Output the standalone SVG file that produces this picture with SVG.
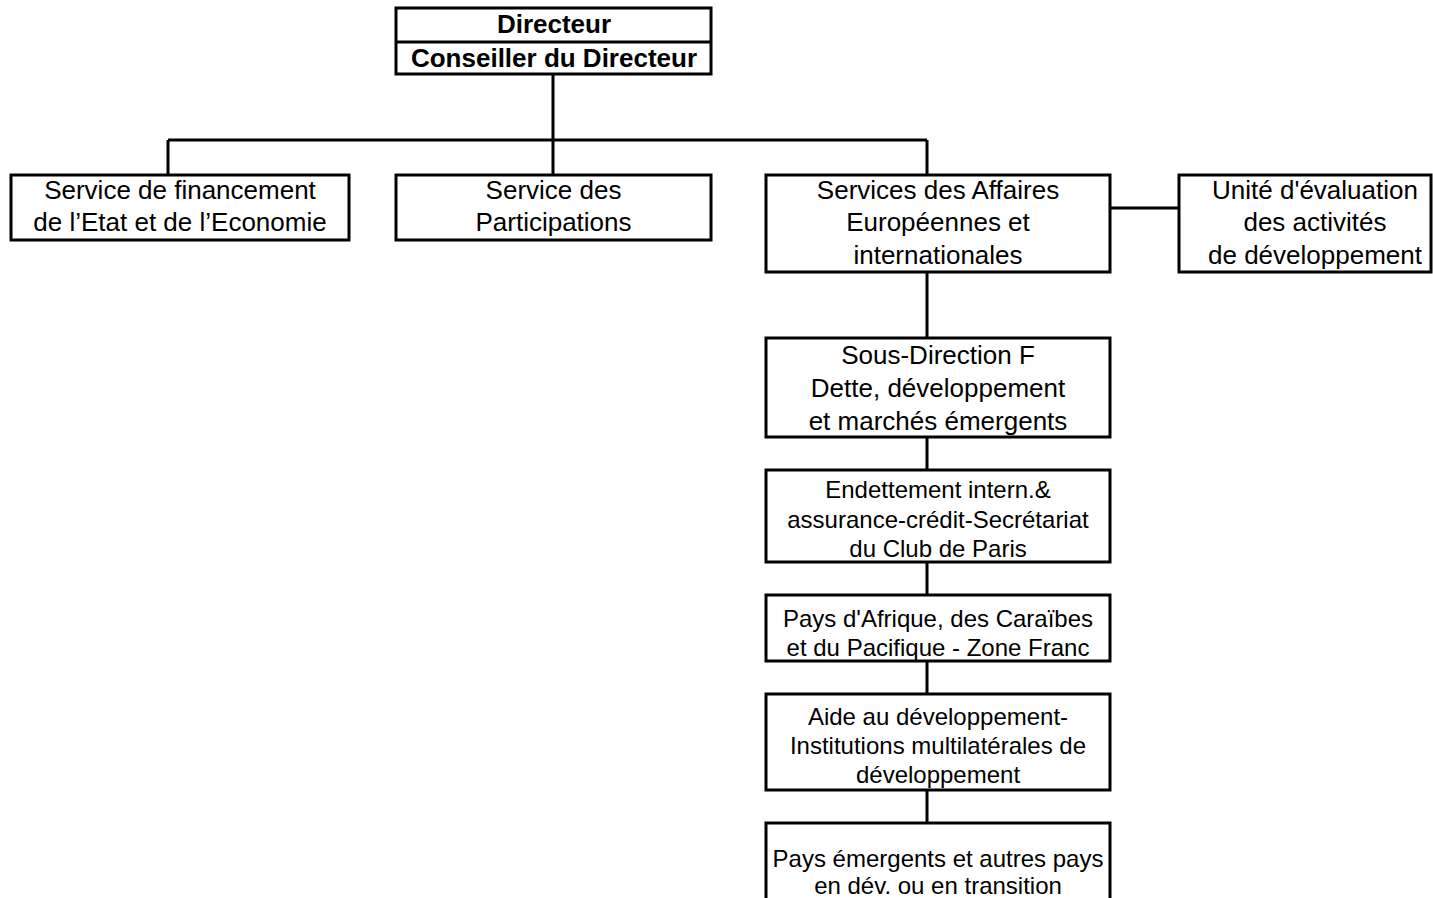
<svg xmlns="http://www.w3.org/2000/svg" width="1433" height="898" viewBox="0 0 1433 898">
<style>
.b{fill:#fff;stroke:#000;stroke-width:3}
.t{font-family:"Liberation Sans",Arial,sans-serif;font-size:26px;fill:#000;text-anchor:middle}
.s{font-size:24px}
.bd{font-weight:bold;font-size:26px}
.c{stroke:#000;stroke-width:3;fill:none}
</style>
<rect width="1433" height="898" fill="#fff"/>
<g id="connectors">
<path class="c" d="M553,74V140M168,140H927M168,140V175M553,140V175M927,140V175"/>
<path class="c" d="M1110,208H1179"/>
<path class="c" d="M927,272V338M927,437V470M927,562V595M927,661V694M927,790V823"/>
</g>
<g id="directeur">
<rect class="b" x="396" y="8" width="315" height="66"/>
<line class="c" x1="396" y1="42" x2="711" y2="42"/>
<text class="t bd" x="554" y="33">Directeur</text>
<text class="t bd" x="554" y="67">Conseiller du Directeur</text>
</g>
<g id="financement">
<rect class="b" x="11" y="175" width="338" height="65"/>
<text class="t" x="180" y="199">Service de financement</text>
<text class="t" x="180" y="231">de l’Etat et de l’Economie</text>
</g>
<g id="participations">
<rect class="b" x="396" y="175" width="315" height="65"/>
<text class="t" x="553.5" y="199">Service des</text>
<text class="t" x="553.5" y="231">Participations</text>
</g>
<g id="affaires">
<rect class="b" x="766" y="175" width="344" height="97"/>
<text class="t" x="938" y="199">Services des Affaires</text>
<text class="t" x="938" y="231">Européennes et</text>
<text class="t" x="938" y="264">internationales</text>
</g>
<g id="evaluation">
<rect class="b" x="1179" y="175" width="252" height="97"/>
<text class="t" x="1315" y="199">Unité d'évaluation</text>
<text class="t" x="1315" y="231">des activités</text>
<text class="t" x="1315" y="264">de développement</text>
</g>
<g id="sousdirection">
<rect class="b" x="766" y="338" width="344" height="99"/>
<text class="t" x="938" y="364">Sous-Direction F</text>
<text class="t" x="938" y="397">Dette, développement</text>
<text class="t" x="938" y="430">et marchés émergents</text>
</g>
<g id="endettement">
<rect class="b" x="766" y="470" width="344" height="92"/>
<text class="t s" x="938" y="498">Endettement intern.&amp;</text>
<text class="t s" x="938" y="528">assurance-crédit-Secrétariat</text>
<text class="t s" x="938" y="557">du Club de Paris</text>
</g>
<g id="afrique">
<rect class="b" x="766" y="595" width="344" height="66"/>
<text class="t s" x="938" y="627">Pays d'Afrique, des Caraïbes</text>
<text class="t s" x="938" y="656">et du Pacifique - Zone Franc</text>
</g>
<g id="aide">
<rect class="b" x="766" y="694" width="344" height="96"/>
<text class="t s" x="938" y="725">Aide au développement-</text>
<text class="t s" x="938" y="754">Institutions multilatérales de</text>
<text class="t s" x="938" y="783">développement</text>
</g>
<g id="emergents">
<rect class="b" x="766" y="823" width="344" height="100"/>
<text class="t s" x="938" y="867">Pays émergents et autres pays</text>
<text class="t s" x="938" y="894">en dév. ou en transition</text>
</g>
</svg>
